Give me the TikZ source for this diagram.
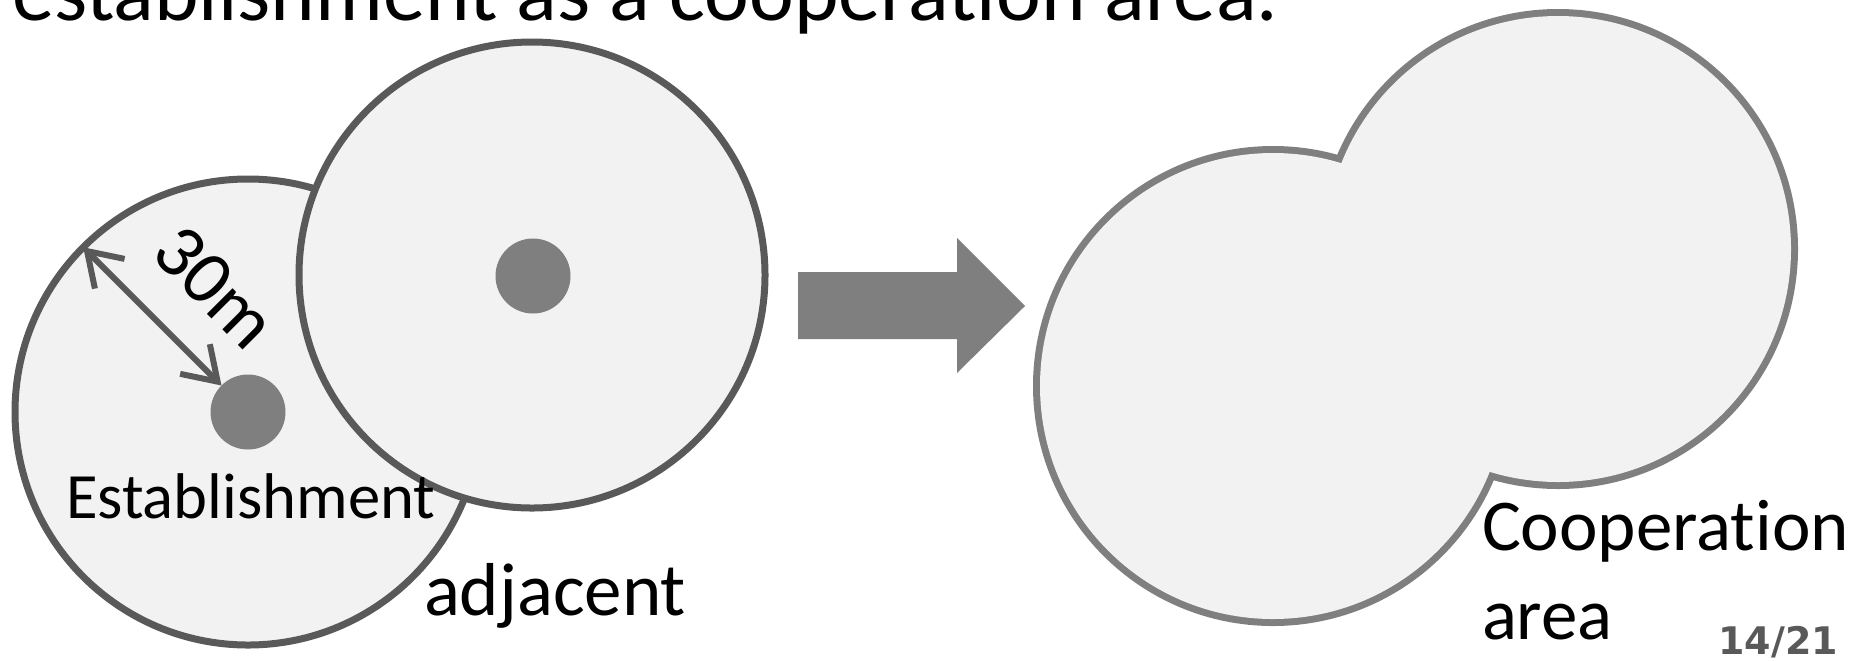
\documentclass[tikz,border=0pt]{standalone}
\usepackage{fontspec}
\setmainfont{Carlito}[Ligatures=NoCommon]
\newfontfamily\pagefont{DejaVu Sans}
\usetikzlibrary{arrows.meta}
\definecolor{fillg}{HTML}{F2F2F2}
\definecolor{darkg}{HTML}{595959}
\definecolor{midg}{HTML}{7F7F7F}
\begin{document}
\begin{tikzpicture}[x=0.5pt,y=-0.5pt,
  zone/.style={circle, draw=darkg, fill=fillg, line width=3.5pt, minimum size=233pt, inner sep=0pt, outer sep=0pt},
  unionedge/.style={circle, draw=midg, fill=fillg, line width=7pt, minimum size=233pt, inner sep=0pt, outer sep=0pt},
  unionfill/.style={circle, fill=fillg, minimum size=233pt, inner sep=0pt, outer sep=0pt},
  site/.style={circle, fill=midg, minimum size=37.5pt, inner sep=0pt, outer sep=0pt},
  lbl/.style={inner sep=0pt, outer sep=0pt, text=black},
  barb/.style={darkg, line width=3pt, {Straight Barb[length=16pt,width=21pt]}-{Straight Barb[length=16pt,width=21pt]}}
]
\useasboundingbox (0,0) rectangle (1856,660);

% title
\node[lbl, anchor=base west, font=\fontsize{42.4}{50}\selectfont] (title) at (12,20) {establishment as a cooperation area.};

% left: establishment zone and adjacent zone
\node[zone] (c1) at (248,412) {};
\node[site] (d1) at (248,412) {};
\node[zone] (c2) at (532,275) {};
\node[site] (d2) at (533,276) {};

\draw[barb] (c1.135) -- (d1.135);
\node[lbl, rotate=-45, font=\fontsize{38}{44}\selectfont] (dist) at (215,287) {30m};

\node[lbl, anchor=base west, font=\fontsize{32.3}{38}\selectfont] (estlbl) at (66,518) {Establishment};
\node[lbl, anchor=base west, font=\fontsize{37.5}{45}\selectfont] (adjlbl) at (424,615) {adjacent};

% big arrow
\fill[midg] (798,272) -- (957,272) -- (957,238) -- (1025,306) -- (957,373) -- (957,339) -- (798,339) -- cycle;

% right: cooperation area (union of two zones)
\node[unionedge] (ua) at (1273,386) {};
\node[unionedge] (ub) at (1558,249) {};
\node[unionfill] (fa) at (1273,386) {};
\node[unionfill] (fb) at (1558,249) {};

\node[lbl, anchor=base west, align=left, font=\fontsize{36.5}{44.5}\selectfont] (coop) at (1482,639) {Cooperation\\area};

\node[lbl, anchor=base east, text=darkg, font=\pagefont\bfseries\fontsize{19}{22}\selectfont] (pg) at (1838,654) {14/21};
\end{tikzpicture}
\end{document}
